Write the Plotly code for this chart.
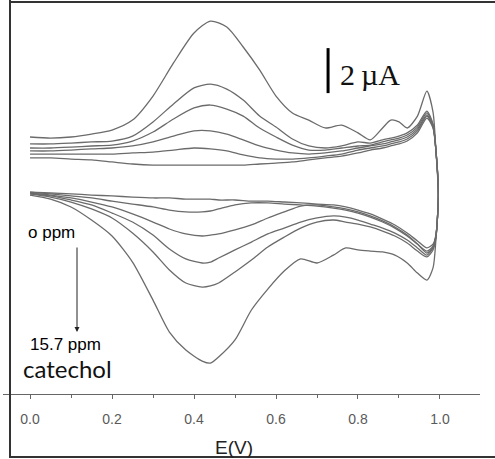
import plotly.graph_objects as go

# Potential grids (V)
E_up = [0.00, 0.05, 0.10, 0.15, 0.20, 0.25, 0.30, 0.35, 0.40, 0.44, 0.48, 0.52, 0.56, 0.60,
        0.64, 0.68, 0.72, 0.76, 0.80, 0.83, 0.86, 0.88, 0.90, 0.92, 0.945, 0.968, 0.983, 0.99, 0.996]
E_dn = [0.99, 0.983, 0.968, 0.945, 0.92, 0.89, 0.86, 0.83, 0.80, 0.77, 0.74, 0.70, 0.66, 0.62,
        0.58, 0.54, 0.50, 0.46, 0.44, 0.42, 0.38, 0.34, 0.30, 0.25, 0.20, 0.15, 0.10, 0.05, 0.00]

# Currents (uA, arbitrary offset) -- upper (anodic) branches
I_up_c0 = [0.76, 0.76, 0.71, 0.67, 0.58, 0.49, 0.44, 0.44, 0.44, 0.44, 0.44, 0.44, 0.49, 0.53,
           0.58, 0.67, 0.76, 0.84, 0.98, 1.11, 1.20, 1.29, 1.38, 1.51, 1.87, 2.53, 2.09, 1.11, -0.89]
I_up_c1 = [0.93, 0.93, 0.93, 0.93, 0.93, 0.98, 1.02, 1.11, 1.20, 1.16, 1.07, 0.89, 0.76, 0.71,
           0.71, 0.76, 0.84, 0.93, 1.11, 1.20, 1.29, 1.38, 1.47, 1.60, 1.96, 2.62, 2.13, 1.11, -0.89]
I_up_c2 = [1.07, 1.07, 1.11, 1.16, 1.20, 1.29, 1.47, 1.73, 1.96, 1.96, 1.82, 1.56, 1.29, 1.11,
           0.98, 0.93, 0.98, 1.07, 1.20, 1.29, 1.38, 1.47, 1.56, 1.69, 2.04, 2.67, 2.18, 1.11, -0.89]
I_up_c3 = [1.20, 1.20, 1.24, 1.29, 1.33, 1.51, 1.91, 2.49, 2.98, 3.11, 2.93, 2.62, 2.09, 1.69,
           1.33, 1.11, 1.11, 1.20, 1.29, 1.33, 1.47, 1.56, 1.64, 1.78, 2.13, 2.76, 2.22, 1.11, -0.89]
I_up_c4 = [1.38, 1.38, 1.42, 1.47, 1.51, 1.73, 2.36, 3.16, 3.87, 4.04, 3.82, 3.33, 2.62, 2.13,
           1.60, 1.29, 1.20, 1.29, 1.47, 1.42, 1.56, 1.64, 1.73, 1.87, 2.22, 2.84, 2.27, 1.11, -0.89]
I_up_c5 = [1.69, 1.64, 1.69, 1.82, 2.00, 2.44, 3.51, 4.98, 6.31, 6.84, 6.58, 5.69, 4.67, 3.51,
           2.76, 2.44, 2.09, 2.22, 1.87, 1.56, 2.09, 2.44, 2.36, 2.09, 2.62, 3.73, 2.80, 1.11, -0.89]

# Lower (cathodic) branches
I_dn_c0 = [-2.67, -3.07, -3.24, -2.93, -2.58, -2.22, -1.96, -1.73, -1.56, -1.42, -1.33, -1.29, -1.24, -1.20,
           -1.16, -1.16, -1.11, -1.11, -1.07, -1.07, -1.07, -1.02, -1.02, -0.98, -0.93, -0.89, -0.84, -0.80, -0.76]
I_dn_c1 = [-2.71, -3.16, -3.38, -3.07, -2.71, -2.36, -2.09, -1.87, -1.69, -1.56, -1.47, -1.38, -1.33, -1.29,
           -1.24, -1.24, -1.33, -1.51, -1.60, -1.64, -1.64, -1.56, -1.42, -1.29, -1.16, -1.02, -0.93, -0.84, -0.76]
I_dn_c2 = [-2.71, -3.20, -3.47, -3.07, -2.67, -2.31, -2.04, -1.82, -1.64, -1.51, -1.42, -1.33, -1.38, -1.64,
           -1.91, -2.22, -2.44, -2.62, -2.67, -2.71, -2.62, -2.40, -2.09, -1.73, -1.42, -1.20, -1.02, -0.89, -0.80]
I_dn_c3 = [-2.76, -3.24, -3.56, -3.24, -2.89, -2.58, -2.36, -2.18, -2.00, -1.87, -1.82, -1.91, -2.09, -2.36,
           -2.62, -2.98, -3.33, -3.69, -3.87, -3.91, -3.73, -3.29, -2.67, -2.09, -1.69, -1.33, -1.11, -0.93, -0.84]
I_dn_c4 = [-2.80, -3.33, -3.64, -3.38, -3.02, -2.71, -2.49, -2.31, -2.18, -2.09, -2.00, -2.09, -2.36, -2.76,
           -3.20, -3.78, -4.31, -4.80, -4.93, -4.98, -4.80, -4.22, -3.42, -2.58, -1.91, -1.51, -1.20, -0.98, -0.84]
I_dn_c5 = [-2.89, -4.13, -4.67, -4.36, -3.91, -3.56, -3.42, -3.38, -3.33, -3.24, -3.56, -3.91, -3.73, -4.27,
           -5.07, -6.00, -7.33, -8.09, -8.36, -8.27, -7.78, -6.98, -5.56, -3.87, -2.71, -2.00, -1.42, -1.07, -0.89]

curves = [
    ("0 ppm", I_up_c0, I_dn_c0),
    ("c1", I_up_c1, I_dn_c1),
    ("c2", I_up_c2, I_dn_c2),
    ("c3", I_up_c3, I_dn_c3),
    ("c4", I_up_c4, I_dn_c4),
    ("15.7 ppm", I_up_c5, I_dn_c5),
]

x_ticks = [0.0, 0.2, 0.4, 0.6, 0.8, 1.0]
tick_labels = ["0.0", "0.2", "0.4", "0.6", "0.8", "1.0"]
minor_ticks = [0.1, 0.3, 0.5, 0.7, 0.9]
scale_bar_uA = 2.0
scale_bar_E = 0.727
scale_bar_I0 = 3.64

W, H = 495, 459
L, R, T, B = 3, 15, 0, 65
PW, PH = W - L - R, H - T - B


def px(xp):
    return (xp - L) / PW


def py(yp):
    return (H - B - yp) / PH


fig = go.Figure()
for name, up, dn in curves:
    fig.add_trace(go.Scatter(
        x=E_up + E_dn, y=up + dn, mode="lines", name=name,
        line=dict(color="#6b6b6b", width=1.3, shape="spline", smoothing=0.7),
        hoverinfo="skip", showlegend=False))

# scale bar (2 uA)
fig.add_shape(type="line", xref="x", yref="y", x0=scale_bar_E, x1=scale_bar_E,
              y0=scale_bar_I0, y1=scale_bar_I0 + scale_bar_uA,
              line=dict(color="black", width=3))

# frame lines
frame = dict(color="#333333", width=2)
fig.add_shape(type="line", xref="paper", yref="paper", x0=px(10), x1=px(10), y0=py(0), y1=py(458), line=frame)
fig.add_shape(type="line", xref="paper", yref="paper", x0=px(10), x1=px(496), y0=py(2), y1=py(2), line=frame)
fig.add_shape(type="line", xref="paper", yref="paper", x0=px(10), x1=px(496), y0=py(457), y1=py(457), line=frame)

ann = []
ann.append(dict(x=px(338), y=py(75), xref="paper", yref="paper", text="2\u2009\u00b5A",
                showarrow=False, xanchor="left", yanchor="middle",
                font=dict(family="Liberation Serif", size=30, color="#111111")))
ann.append(dict(x=px(26), y=py(232), xref="paper", yref="paper", text="o ppm",
                showarrow=False, xanchor="left", yanchor="middle",
                font=dict(family="Liberation Sans", size=17, color="#000000")))
ann.append(dict(x=px(28), y=py(344), xref="paper", yref="paper", text="15.7 ppm",
                showarrow=False, xanchor="left", yanchor="middle",
                font=dict(family="Liberation Sans", size=17, color="#000000")))
ann.append(dict(x=px(21), y=py(368), xref="paper", yref="paper", text="catechol",
                showarrow=False, xanchor="left", yanchor="middle",
                font=dict(family="Lato", size=24, color="#111111")))
ann.append(dict(x=px(77), y=py(332), xref="paper", yref="paper", text="",
                showarrow=True, ax=0, ay=-86, arrowhead=2, arrowsize=1, arrowwidth=1,
                arrowcolor="#222222"))
ann.append(dict(x=px(234), y=py(447), xref="paper", yref="paper", text="E(V)",
                showarrow=False, xanchor="center", yanchor="middle",
                font=dict(family="Liberation Sans", size=19, color="#222222")))

fig.update_layout(
    width=W, height=H,
    margin=dict(l=L, r=R, t=T, b=B),
    paper_bgcolor="white", plot_bgcolor="white",
    annotations=ann,
    xaxis=dict(range=[-0.0659, 1.0976], showgrid=False, zeroline=False,
               showline=True, linecolor="#666666", linewidth=1.3,
               ticks="outside", ticklen=4, tickwidth=1.2, tickcolor="#666666",
               tickvals=x_ticks, ticktext=tick_labels, ticklabelstandoff=8,
               tickfont=dict(family="Liberation Sans", size=14, color="#5a5a5a"),
               minor=dict(tickvals=minor_ticks, ticks="outside", ticklen=3,
                          tickcolor="#666666", showgrid=False)),
    yaxis=dict(range=[-9.733, 7.778], visible=False),
)

fig.write_html("out.html")
